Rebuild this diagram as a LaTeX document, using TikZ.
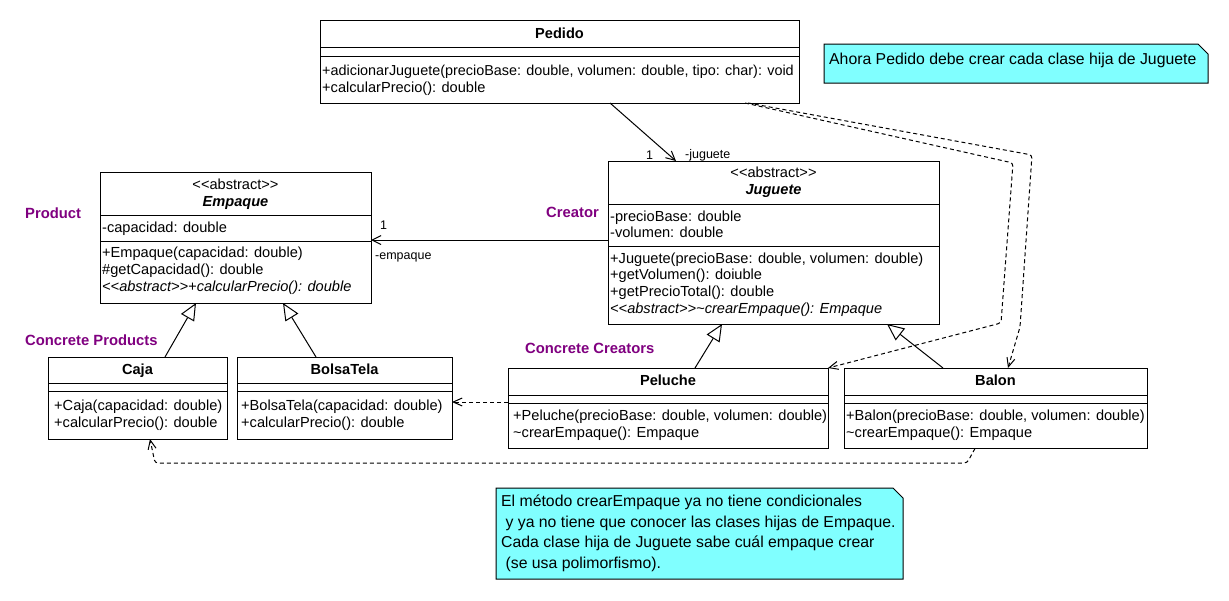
\documentclass[tikz,border=0pt]{standalone}
\usepackage{fontspec}
\setmainfont{Liberation Sans}[Ligatures=TeXOff]
\usetikzlibrary{arrows.meta,calc}
\definecolor{notecyan}{RGB}{128,255,255}
\definecolor{rolepurple}{RGB}{128,0,128}
\begin{document}
\begin{tikzpicture}[x=1pt,y=-1pt,
  ln/.style={draw=black,line width=1pt},
  clsbox/.style={draw=black,line width=1pt,fill=white,inner sep=0pt,outer sep=0pt,anchor=north west},
  mtxt/.style={anchor=base west,inner sep=0pt,font=\fontsize{14.6}{17}\selectfont},
  ttl/.style={anchor=base,inner sep=0pt,font=\fontsize{14.6}{17}\selectfont\bfseries},
  ster/.style={anchor=base,inner sep=0pt,font=\fontsize{14.6}{17}\selectfont},
  role/.style={anchor=base west,inner sep=0pt,text=rolepurple,font=\fontsize{14.8}{17}\selectfont\bfseries},
  lbl/.style={anchor=base west,inner sep=0pt,font=\fontsize{12.5}{14}\selectfont},
  ntxt/.style={anchor=base west,inner sep=0pt,font=\fontsize{15.8}{20}\selectfont},
  notebox/.style={draw=black,line width=1pt,fill=notecyan},
  assoc/.style={draw=black,line width=1pt,-{Straight Barb[length=9pt,width=9pt]}},
  gen/.style={draw=black,line width=1pt,-{Triangle[open,length=17pt,width=15pt,fill=white]}},
  dep/.style={draw=black,line width=1pt,dash pattern=on 4pt off 3pt,rounded corners=3pt,-{Straight Barb[length=9pt,width=8pt]}}
]
\useasboundingbox (0,0) rectangle (1229,600);
\fill[white] (0,0) rectangle (1229,600);

% ---------- Pedido ----------
\node[clsbox,minimum width=479pt,minimum height=83pt] (pedido) at (320,20) {};
\draw[ln] (320,47) -- (799,47);
\draw[ln] (320,56) -- (799,56);
\node[ttl] (pedidoT) at (559.5,38.3) {Pedido};
\node[mtxt,font=\fontsize{14.4}{17}\selectfont] (pedidoM1) at (322,75.5) {+adicionarJuguete(precioBase: double, volumen: double, tipo: char): void};
\node[mtxt] (pedidoM2) at (322,92.2) {+calcularPrecio(): double};

% ---------- Empaque ----------
\node[clsbox,minimum width=271pt,minimum height=131pt] (empaque) at (100,172) {};
\draw[ln] (100,215.7) -- (371,215.7);
\draw[ln] (100,241) -- (371,241);
\node[ster] (empaqueS) at (235.5,189) {<<abstract>>};
\node[ttl,font=\fontsize{14.6}{17}\selectfont\bfseries\itshape] (empaqueT) at (235.5,206.5) {Empaque};
\node[mtxt] (empaqueA1) at (102,232.5) {-capacidad: double};
\node[mtxt] (empaqueM1) at (102,257.7) {+Empaque(capacidad: double)};
\node[mtxt] (empaqueM2) at (102,274.3) {\#getCapacidad(): double};
\node[mtxt,font=\fontsize{14.6}{17}\selectfont\itshape] (empaqueM3) at (102,291) {<<abstract>>+calcularPrecio(): double};

% ---------- Juguete ----------
\node[clsbox,minimum width=331pt,minimum height=163pt] (juguete) at (608,161) {};
\draw[ln] (608,204) -- (939,204);
\draw[ln] (608,246.5) -- (939,246.5);
\node[ster] (jugueteS) at (773.5,177.7) {<<abstract>>};
\node[ttl,font=\fontsize{14.6}{17}\selectfont\bfseries\itshape] (jugueteT) at (773.5,194.4) {Juguete};
\node[mtxt] (jugueteA1) at (610,221) {-precioBase: double};
\node[mtxt] (jugueteA2) at (610,237.5) {-volumen: double};
\node[mtxt] (jugueteM1) at (610,263) {+Juguete(precioBase: double, volumen: double)};
\node[mtxt] (jugueteM2) at (610,279.7) {+getVolumen(): doiuble};
\node[mtxt] (jugueteM3) at (610,296.4) {+getPrecioTotal(): double};
\node[mtxt,font=\fontsize{14.6}{17}\selectfont\itshape] (jugueteM4) at (610,313) {<<abstract>>\textasciitilde crearEmpaque(): Empaque};

% ---------- Caja ----------
\node[clsbox,minimum width=179pt,minimum height=82pt] (caja) at (48,357) {};
\draw[ln] (48,383) -- (227,383);
\draw[ln] (48,391) -- (227,391);
\node[ttl] (cajaT) at (137.5,374) {Caja};
\node[mtxt] (cajaM1) at (54,410.3) {+Caja(capacidad: double)};
\node[mtxt] (cajaM2) at (54,427) {+calcularPrecio(): double};

% ---------- BolsaTela ----------
\node[clsbox,minimum width=215pt,minimum height=82pt] (bolsa) at (237,357) {};
\draw[ln] (237,383) -- (452,383);
\draw[ln] (237,391) -- (452,391);
\node[ttl] (bolsaT) at (344.5,374) {BolsaTela};
\node[mtxt] (bolsaM1) at (241,410.3) {+BolsaTela(capacidad: double)};
\node[mtxt] (bolsaM2) at (241,427) {+calcularPrecio(): double};

% ---------- Peluche ----------
\node[clsbox,minimum width=320pt,minimum height=80.5pt] (peluche) at (508,368) {};
\draw[ln] (508,395) -- (828,395);
\draw[ln] (508,403) -- (828,403);
\node[ttl] (pelucheT) at (668,385) {Peluche};
\node[mtxt] (pelucheM1) at (513,420.5) {+Peluche(precioBase: double, volumen: double)};
\node[mtxt] (pelucheM2) at (513,437.2) {\textasciitilde crearEmpaque(): Empaque};

% ---------- Balon ----------
\node[clsbox,minimum width=303pt,minimum height=80.5pt] (balon) at (844,368) {};
\draw[ln] (844,395) -- (1147,395);
\draw[ln] (844,403) -- (1147,403);
\node[ttl] (balonT) at (995.5,385) {Balon};
\node[mtxt] (balonM1) at (846,420.5) {+Balon(precioBase: double, volumen: double)};
\node[mtxt] (balonM2) at (846,437.2) {\textasciitilde crearEmpaque(): Empaque};

% ---------- role labels ----------
\node[role] (rProduct) at (25,218.3) {Product};
\node[role] (rCreator) at (546,217.7) {Creator};
\node[role] (rCProducts) at (25,345) {Concrete Products};
\node[role] (rCCreators) at (525,353.3) {Concrete Creators};

% ---------- notes ----------
\draw[notebox] (824,44) -- (1198,44) -- (1208,54) -- (1208,83) -- (824,83) -- cycle;
\node[ntxt] (note1) at (829,64.5) {Ahora Pedido debe crear cada clase hija de Juguete};
\draw[notebox] (496,488) -- (893,488) -- (903,498) -- (903,579) -- (496,579) -- cycle;
\node[ntxt] (note2a) at (501,506.5) {El método crearEmpaque ya no tiene condicionales};
\node[ntxt] (note2b) at (501,527) {\ y ya no tiene que conocer las clases hijas de Empaque.};
\node[ntxt] (note2c) at (501,547.5) {Cada clase hija de Juguete sabe cuál empaque crear};
\node[ntxt] (note2d) at (501,568) {\ (se usa polimorfismo).};

% ---------- associations ----------
\draw[assoc] ($(pedido.south west)+(290,0)$) -- ($(juguete.north west)+(68,0)$);
\node[lbl] (m1j) at (646,159.5) {1};
\node[lbl] (rolej) at (685,158.5) {-juguete};
\draw[assoc] ($(juguete.north west)+(0,79)$) -- ($(empaque.north east)+(0,68)$);
\node[lbl] (m1e) at (380,229) {1};
\node[lbl] (rolee) at (375,259) {-empaque};

% ---------- generalizations ----------
\draw[gen] ($(caja.north west)+(117,0)$) -- ($(empaque.south west)+(96,0)$);
\draw[gen] ($(bolsa.north west)+(79,0)$) -- ($(empaque.south west)+(183,0)$);
\draw[gen] ($(peluche.north west)+(187,0)$) -- ($(juguete.south west)+(114,0)$);
\draw[gen] ($(balon.north west)+(99,0)$) -- ($(juguete.south west)+(279,0)$);

% ---------- dependencies ----------
\draw[dep] ($(peluche.north west)+(0,34)$) -- ($(bolsa.north east)+(0,45)$);
\draw[dep] ($(balon.south west)+(131,0)$) -- (967,463) -- (155,463) -- ($(caja.south west)+(102,0)$);
\draw[dep] ($(pedido.south west)+(425,0)$) -- (1013,163) -- (1001,323) -- (peluche.north east);
\draw[dep] ($(pedido.south west)+(428,0)$) -- (1032,155) -- (1020,327) -- ($(balon.north west)+(164,0)$);
\end{tikzpicture}
\end{document}
